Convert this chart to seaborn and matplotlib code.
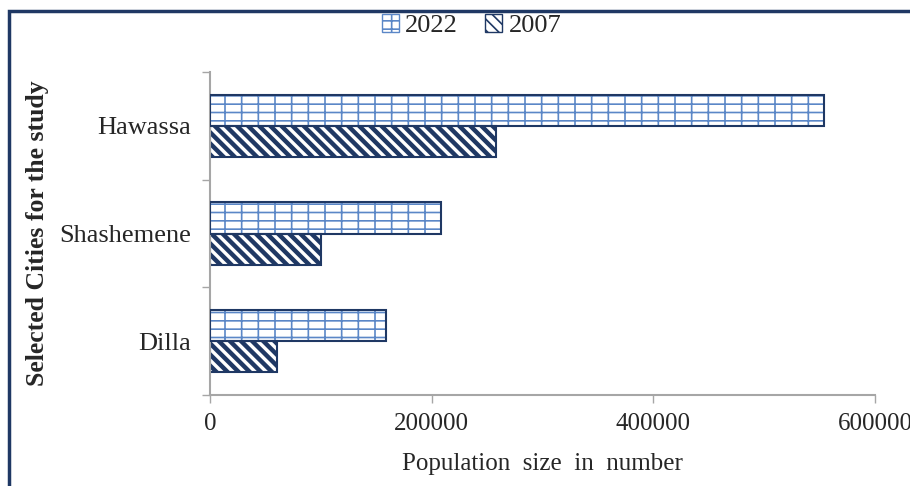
import pandas as pd
import seaborn as sns
import matplotlib.pyplot as plt
from matplotlib.patches import Patch, Rectangle
from matplotlib.ticker import FixedLocator

cities = ['Hawassa', 'Shashemene', 'Dilla']
pop_2022 = [554000, 208000, 158500]
pop_2007 = [258000, 100000, 60000]
years = ['2022', '2007']
x_ticks = [0, 200000, 400000, 600000]

navy = '#1f3864'
brick = '#5b87c7'
axis_gray = '#a6a6a6'

df = pd.DataFrame({
    'city': cities * 2,
    'year': ['2022'] * 3 + ['2007'] * 3,
    'population': pop_2022 + pop_2007,
})

sns.set_style('white')
plt.rcParams['font.family'] = ['Liberation Serif', 'DejaVu Serif']
plt.rcParams['hatch.linewidth'] = 1.2

fig = plt.figure(figsize=(9.1, 4.86), dpi=100)
ax = fig.add_axes([0.231, 0.187, 0.7305, 0.665])

sns.barplot(data=df, x='population', y='city', hue='year', hue_order=years,
            order=cities, orient='h', width=0.58, palette=['white', 'white'],
            edgecolor=navy, linewidth=1.5, legend=False, ax=ax)

# 2022: brick-like hatch in light blue, navy outline drawn on top
for p in ax.containers[0]:
    p.set_hatch('--|')
    p.set_edgecolor(brick)
    p.set_linewidth(0)
    ax.add_patch(Rectangle(p.get_xy(), p.get_width(), p.get_height(),
                           fill=False, ec=navy, lw=1.5, zorder=3))
# 2007: thick diagonal stripes
for p in ax.containers[1]:
    p.set_hatch('\\\\\\')
    p.set_edgecolor(navy)
    if hasattr(p, 'set_hatch_linewidth'):
        p.set_hatch_linewidth(3.2)

ax.set_xlim(0, 600000)
ax.set_ylim(2.5, -0.5)
ax.xaxis.set_major_locator(FixedLocator(x_ticks))
ax.set_xticklabels([str(v) for v in x_ticks], fontsize=18)
ax.tick_params(axis='x', length=6, width=1, color=axis_gray, pad=7, bottom=True)
ax.tick_params(axis='y', which='major', length=0, pad=14, labelsize=19)
ax.yaxis.set_minor_locator(FixedLocator([-0.5, 0.5, 1.5, 2.5]))
ax.tick_params(axis='y', which='minor', length=6, width=1, color=axis_gray, left=True)

for s in ['top', 'right']:
    ax.spines[s].set_visible(False)
for s in ['left', 'bottom']:
    ax.spines[s].set_color(axis_gray)
    ax.spines[s].set_linewidth(1.5)

ax.set_xlabel('Population  size  in  number', fontsize=18, labelpad=13)
ax.set_ylabel('Selected Cities for the study', fontsize=18.5, fontweight='bold', labelpad=7)

handles = [
    Patch(facecolor='white', edgecolor=brick, hatch='--|', label='2022'),
    Patch(facecolor='white', edgecolor=navy, hatch='\\\\\\', label='2007'),
]
fig.legend(handles=handles, loc='upper center', bbox_to_anchor=(0.518, 1.02), ncol=2,
           frameon=False, fontsize=19, handlelength=0.65, handleheight=0.65,
           handletextpad=0.25, columnspacing=1.0)

fig.add_artist(Rectangle((9 / 910, -0.1), 1.2, 1 - 11 / 486 + 0.1, transform=fig.transFigure,
                         fill=False, ec=navy, lw=2.5))

fig.savefig('out.png', dpi=100)
